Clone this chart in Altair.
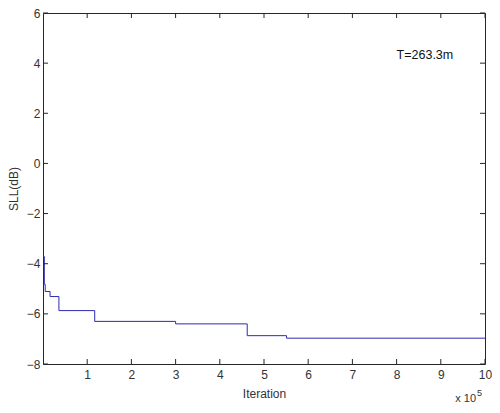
import altair as alt
import pandas as pd

# Data (x in units of 1e5 iterations)
iter_x = [0, 0.03, 0.05, 0.16, 0.36, 1.17, 3.0, 4.62, 5.51, 10]
sll_db = [-3.71, -4.82, -5.11, -5.31, -5.87, -6.30, -6.40, -6.87, -6.97, -6.97]
x_ticks = [1, 2, 3, 4, 5, 6, 7, 8, 9, 10]
y_ticks = [-8, -6, -4, -2, 0, 2, 4, 6]
annotation = ["T=263.3m"]
ann_x = [8.0]
ann_y = [4.33]

W, H = 442, 351
FONT = "Liberation Sans"
AX = "#262626"
TXT = "#333333"
LINE = "#2b2bb0"

df = pd.DataFrame({"x": iter_x, "y": sll_db})
xt = pd.DataFrame({"v": x_ticks})
yt = pd.DataFrame({"v": y_ticks})
ann = pd.DataFrame({"x": ann_x, "y": ann_y, "t": annotation})

xs = alt.Scale(domain=[0, 10], nice=False, zero=False)
ys = alt.Scale(domain=[-8, 6], nice=False, zero=False)

line = alt.Chart(df).mark_line(interpolate="step-after", color=LINE, strokeWidth=1).encode(
    x=alt.X("x:Q", scale=xs, axis=alt.Axis(
        values=x_ticks, title="Iteration", ticks=False, domain=False, grid=False,
        labelFont=FONT, labelFontSize=12, labelColor=TXT, labelPadding=5,
        titleFont=FONT, titleFontSize=12, titleFontWeight="normal", titleColor=TXT,
        titlePadding=8, labelFlush=False)),
    y=alt.Y("y:Q", scale=ys, axis=alt.Axis(
        values=y_ticks, title="SLL(dB)", ticks=False, domain=False, grid=False,
        labelFont=FONT, labelFontSize=12, labelColor=TXT, labelPadding=3,
        titleFont=FONT, titleFontSize=12, titleFontWeight="normal", titleColor=TXT,
        titlePadding=6, labelFlush=False)),
)

tick_len = 5
bottom_ticks = alt.Chart(xt).mark_rule(color=AX, strokeWidth=1).encode(
    x=alt.X("v:Q", scale=xs), y=alt.value(H), y2=alt.value(H - tick_len))
top_ticks = alt.Chart(xt).mark_rule(color=AX, strokeWidth=1).encode(
    x=alt.X("v:Q", scale=xs), y=alt.value(0), y2=alt.value(tick_len))
left_ticks = alt.Chart(yt).mark_rule(color=AX, strokeWidth=1).encode(
    y=alt.Y("v:Q", scale=ys), x=alt.value(0), x2=alt.value(tick_len))
right_ticks = alt.Chart(yt).mark_rule(color=AX, strokeWidth=1).encode(
    y=alt.Y("v:Q", scale=ys), x=alt.value(W), x2=alt.value(W - tick_len))

label = alt.Chart(ann).mark_text(align="left", baseline="middle", font=FONT,
                                 fontSize=12.5, color="#111111").encode(
    x=alt.X("x:Q", scale=xs), y=alt.Y("y:Q", scale=ys), text="t:N")

exp_base = alt.Chart(pd.DataFrame({"t": ["x 10"]})).mark_text(
    align="right", baseline="middle", font=FONT, fontSize=11, color=TXT).encode(
    x=alt.value(W - 9), y=alt.value(H + 35), text="t:N")
exp_sup = alt.Chart(pd.DataFrame({"t": ["5"]})).mark_text(
    align="left", baseline="middle", font=FONT, fontSize=9, color=TXT).encode(
    x=alt.value(W - 8), y=alt.value(H + 29), text="t:N")

chart = alt.layer(line, bottom_ticks, top_ticks, left_ticks, right_ticks,
                  label, exp_base, exp_sup).properties(
    width=W, height=H,
    autosize=alt.AutoSizeParams(type="none"),
    padding={"left": 35, "top": 5, "right": 7, "bottom": 41},
    background="white",
).configure_view(stroke=AX, strokeWidth=1)

chart.save("out.html", embed_options={"renderer": "svg", "actions": False})
